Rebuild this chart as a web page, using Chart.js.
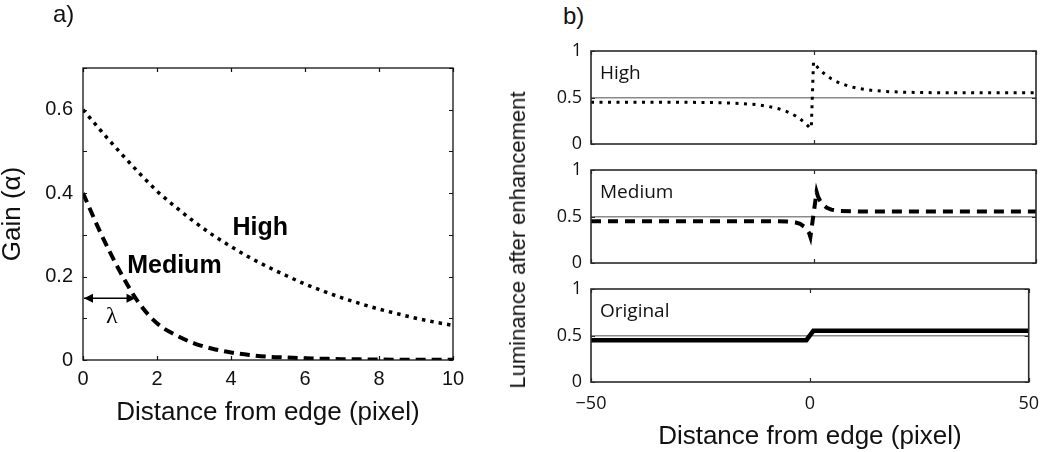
<!DOCTYPE html>
<html><head><meta charset="utf-8">
<script src="https://cdn.jsdelivr.net/npm/chart.js@4.4.1/dist/chart.umd.min.js"></script>
<style>
html,body{margin:0;padding:0;background:#fff;}
#wrap{position:relative;width:1050px;height:452px;overflow:hidden;background:#fff;}
canvas{position:absolute;}
.lbl{position:absolute;font-family:"Liberation Sans",Arial,Helvetica,sans-serif;color:#111;white-space:nowrap;line-height:1;}
</style></head><body>
<div id="wrap">
  <canvas id="ca" width="500" height="452" style="left:0;top:0;width:500px;height:452px"></canvas>
  <canvas id="cb1" width="530" height="133" style="left:520px;top:31px;width:530px;height:133px"></canvas>
  <canvas id="cb2" width="530" height="133" style="left:520px;top:150px;width:530px;height:133px"></canvas>
  <canvas id="cb3" width="530" height="183" style="left:520px;top:269px;width:530px;height:183px"></canvas>
  <div class="lbl" style="left:53px;top:2px;font-size:24px;">a)</div>
  <div class="lbl" style="left:563px;top:4px;font-size:24px;">b)</div>
  <div class="lbl" style="left:518px;top:240px;font-size:22px;transform:translate(-50%,-50%) rotate(-90deg);">Luminance after enhancement</div>
</div>
<script>
// ---------- Panel a data ----------
const gainX      = [0,0.5,1,1.5,2,2.5,3,3.5,4,4.5,5,5.5,6,6.5,7,7.5,8,8.5,9,9.5,10];
const gainHigh   = [0.600,0.548,0.498,0.450,0.405,0.367,0.332,0.300,0.272,0.246,0.223,0.202,0.182,0.165,0.149,0.135,0.122,0.111,0.100,0.091,0.083];
const gainMedium = [0.400,0.300,0.212,0.138,0.088,0.060,0.040,0.027,0.018,0.012,0.008,0.006,0.004,0.003,0.002,0.0015,0.001,0.0008,0.0006,0.0004,0.0003];
const gainXTickValues = [0,2,4,6,8,10];
const gainXTickLabels = ['0','2','4','6','8','10'];
const gainYTickValues = [0,0.2,0.4,0.6];
const gainYTickLabels = ['0','0.2','0.4','0.6'];

// ---------- Panel b data ----------
const edgeXHigh = [-50,-40,-30,-25,-20,-16,-13,-10,-8,-6,-5,-4,-3,-2,-1,-0.5,0,0.5,1,2,3,4,5,6,8,10,13,16,20,25,30,40,50];
const lumHigh   = [0.45,0.45,0.449,0.447,0.443,0.435,0.424,0.403,0.381,0.349,0.327,0.301,0.269,0.230,0.183,0.17,0.88,0.847,0.82,0.773,0.734,0.701,0.675,0.653,0.62,0.598,0.577,0.565,0.557,0.553,0.551,0.55,0.55];
const edgeXMedium = [-50,-20,-10,-6,-4,-3,-2,-1.5,-1,-0.7,0.7,1,1.5,2,3,4,6,10,20,50];
const lumMedium   = [0.45,0.45,0.45,0.446,0.435,0.42,0.388,0.361,0.323,0.28,0.765,0.717,0.668,0.634,0.594,0.574,0.559,0.555,0.555,0.555];
const edgeXOriginal = [-50,-0.8,0.8,50];
const lumOriginal   = [0.45,0.45,0.55,0.55];
const edgeXTickValues = [-50,0,50];
const edgeXTickLabels = ['\u221250','0','50'];
const lumYTickValues = [0,0.5,1];
const lumYTickLabels = ['0','0.5','1'];

const SANS = '"Liberation Sans", Arial, Helvetica, sans-serif';
const MYR  = '"Open Sans", "Noto Sans", sans-serif';

function labelFor(vals, labels, v){
  const i = vals.findIndex(t => Math.abs(t - v) < 1e-6);
  return i >= 0 ? labels[i] : '';
}
function pts(xs, ys){ return xs.map((x,i)=>({x:x, y:ys[i]})); }

function boxPlugin(tickLen, lw, color){
  return {
    id:'matlabBox',
    afterDraw(chart){
      const ctx = chart.ctx, a = chart.chartArea;
      const xs = chart.scales.x, ys = chart.scales.y;
      ctx.save();
      ctx.strokeStyle = color; ctx.lineWidth = lw;
      ctx.strokeRect(a.left, a.top, a.right - a.left, a.bottom - a.top);
      ctx.beginPath();
      xs.ticks.forEach(t => {
        const p = Math.round(xs.getPixelForValue(t.value)) + 0.5;
        ctx.moveTo(p, a.bottom); ctx.lineTo(p, a.bottom - tickLen);
        ctx.moveTo(p, a.top); ctx.lineTo(p, a.top + tickLen);
      });
      ys.ticks.forEach(t => {
        const p = Math.round(ys.getPixelForValue(t.value)) + 0.5;
        ctx.moveTo(a.left, p); ctx.lineTo(a.left + tickLen, p);
        ctx.moveTo(a.right, p); ctx.lineTo(a.right - tickLen, p);
      });
      ctx.lineWidth = 1.2;
      ctx.stroke();
      ctx.restore();
    }
  };
}

// annotations of panel a (data coordinates)
const gainNotes = [
  {text:'High',   x:4.79, y:0.300, font:'bold 25px ' + SANS},
  {text:'Medium', x:2.47, y:0.209, font:'bold 25px ' + SANS},
  {text:'\u03bb',  x:0.78, y:0.089, font:'24px "Liberation Serif", "DejaVu Serif", serif'}
];
const lambdaArrow = {x0:0, x1:1.42, y:0.148};

const gainNotesPlugin = {
  id:'gainNotes',
  afterDatasetsDraw(chart){
    const ctx = chart.ctx, xs = chart.scales.x, ys = chart.scales.y;
    ctx.save();
    ctx.fillStyle = '#000';
    ctx.textAlign = 'center'; ctx.textBaseline = 'alphabetic';
    gainNotes.forEach(n => {
      ctx.font = n.font;
      ctx.fillText(n.text, xs.getPixelForValue(n.x), ys.getPixelForValue(n.y));
    });
    const xa = xs.getPixelForValue(lambdaArrow.x0) + 1, xb = xs.getPixelForValue(lambdaArrow.x1);
    const y = ys.getPixelForValue(lambdaArrow.y);
    ctx.strokeStyle = '#000'; ctx.lineWidth = 1.3;
    ctx.beginPath(); ctx.moveTo(xa, y); ctx.lineTo(xb, y); ctx.stroke();
    ctx.beginPath();
    ctx.moveTo(xa, y); ctx.lineTo(xa + 9, y - 4.5); ctx.lineTo(xa + 9, y + 4.5); ctx.closePath();
    ctx.moveTo(xb, y); ctx.lineTo(xb - 9, y - 4.5); ctx.lineTo(xb - 9, y + 4.5); ctx.closePath();
    ctx.fill();
    ctx.restore();
  }
};

new Chart(document.getElementById('ca'), {
  type:'line',
  data:{datasets:[
    {label:'High', data:pts(gainX, gainHigh), borderColor:'#000', borderWidth:3.5, borderDash:[3.5,5], pointRadius:0, cubicInterpolationMode:'monotone', fill:false},
    {label:'Medium', data:pts(gainX, gainMedium), borderColor:'#000', borderWidth:4, borderDash:[10,6], pointRadius:0, cubicInterpolationMode:'monotone', fill:false}
  ]},
  options:{
    responsive:false, animation:false, devicePixelRatio:1,
    layout:{padding:{top:68, right:47, left:0, bottom:0}},
    plugins:{legend:{display:false}, tooltip:{enabled:false}},
    scales:{
      x:{type:'linear', min:0, max:10,
         grid:{display:false, drawTicks:false}, border:{display:false},
         ticks:{stepSize:2, padding:7, autoSkip:false, maxRotation:0, font:{family:SANS, size:20}, color:'#111',
                callback:v => labelFor(gainXTickValues, gainXTickLabels, v)},
         title:{display:true, text:'Distance from edge (pixel)', font:{family:SANS, size:26}, color:'#111', padding:{top:0, bottom:24}},
         afterFit:s => { s.height = 92; }},
      y:{type:'linear', min:0, max:0.7,
         grid:{display:false, drawTicks:false}, border:{display:false},
         ticks:{stepSize:0.1, padding:10, autoSkip:false, font:{family:SANS, size:20}, color:'#111',
                callback:v => labelFor(gainYTickValues, gainYTickLabels, v)},
         title:{display:true, text:'Gain (\u03b1)', font:{family:SANS, size:26, lineHeight:1}, color:'#111', padding:{top:0, bottom:0}},
         afterFit:s => { s.width = 83; }}
    }
  },
  plugins:[boxPlugin(4, 1.3, '#111'), gainNotesPlugin]
});

function subLabel(text){
  return {
    id:'subLabel',
    afterDraw(chart){
      const ctx = chart.ctx, a = chart.chartArea;
      ctx.save();
      ctx.font = '19px ' + MYR; ctx.fillStyle = '#111';
      ctx.textAlign = 'left'; ctx.textBaseline = 'alphabetic';
      ctx.fillText(text, a.left + 9, a.top + 28);
      ctx.restore();
    }
  };
}

function makeSub(id, xs, ys, style, label, isBottom){
  new Chart(document.getElementById(id), {
    type:'line',
    data:{datasets:[Object.assign({label:label, data:pts(xs, ys), borderColor:'#000', pointRadius:0, tension:0, fill:false}, style)]},
    options:{
      responsive:false, animation:false, devicePixelRatio:1,
      layout:{padding:{top:20, right:14, left:0, bottom:0}},
      plugins:{legend:{display:false}, tooltip:{enabled:false}},
      scales:{
        x:{type:'linear', min:-50, max:50,
           grid:{display:false, drawTicks:false}, border:{display:false},
           ticks:{display:isBottom, stepSize:50, padding:11, autoSkip:false, maxRotation:0, font:{family:MYR, size:18}, color:'#111',
                  callback:v => labelFor(edgeXTickValues, edgeXTickLabels, v)},
           title:{display:isBottom, text:'Distance from edge (pixel)', font:{family:SANS, size:26, lineHeight:1.15}, color:'#111', padding:{top:0, bottom:0}},
           afterFit:s => { s.height = isBottom ? 70 : 20; }},
        y:{type:'linear', min:0, max:1,
           grid:{drawTicks:false, lineWidth:1.5,
                 color:c => (c.tick && Math.abs(c.tick.value - 0.5) < 1e-6) ? '#8a8a8a' : 'rgba(0,0,0,0)'},
           border:{display:false},
           ticks:{stepSize:0.5, padding:9, autoSkip:false, font:{family:MYR, size:18}, color:'#111',
                  callback:v => labelFor(lumYTickValues, lumYTickLabels, v)},
           afterFit:s => { s.width = 71; }}
      }
    },
    plugins:[boxPlugin(4, 1.6, '#2a2a2a'), subLabel(label)]
  });
}

makeSub('cb1', edgeXHigh, lumHigh, {borderWidth:3, borderDash:[3,5.5]}, 'High', false);
makeSub('cb2', edgeXMedium, lumMedium, {borderWidth:4, borderDash:[10,7]}, 'Medium', false);
makeSub('cb3', edgeXOriginal, lumOriginal, {borderWidth:4.5}, 'Original', true);
</script>
</body></html>
